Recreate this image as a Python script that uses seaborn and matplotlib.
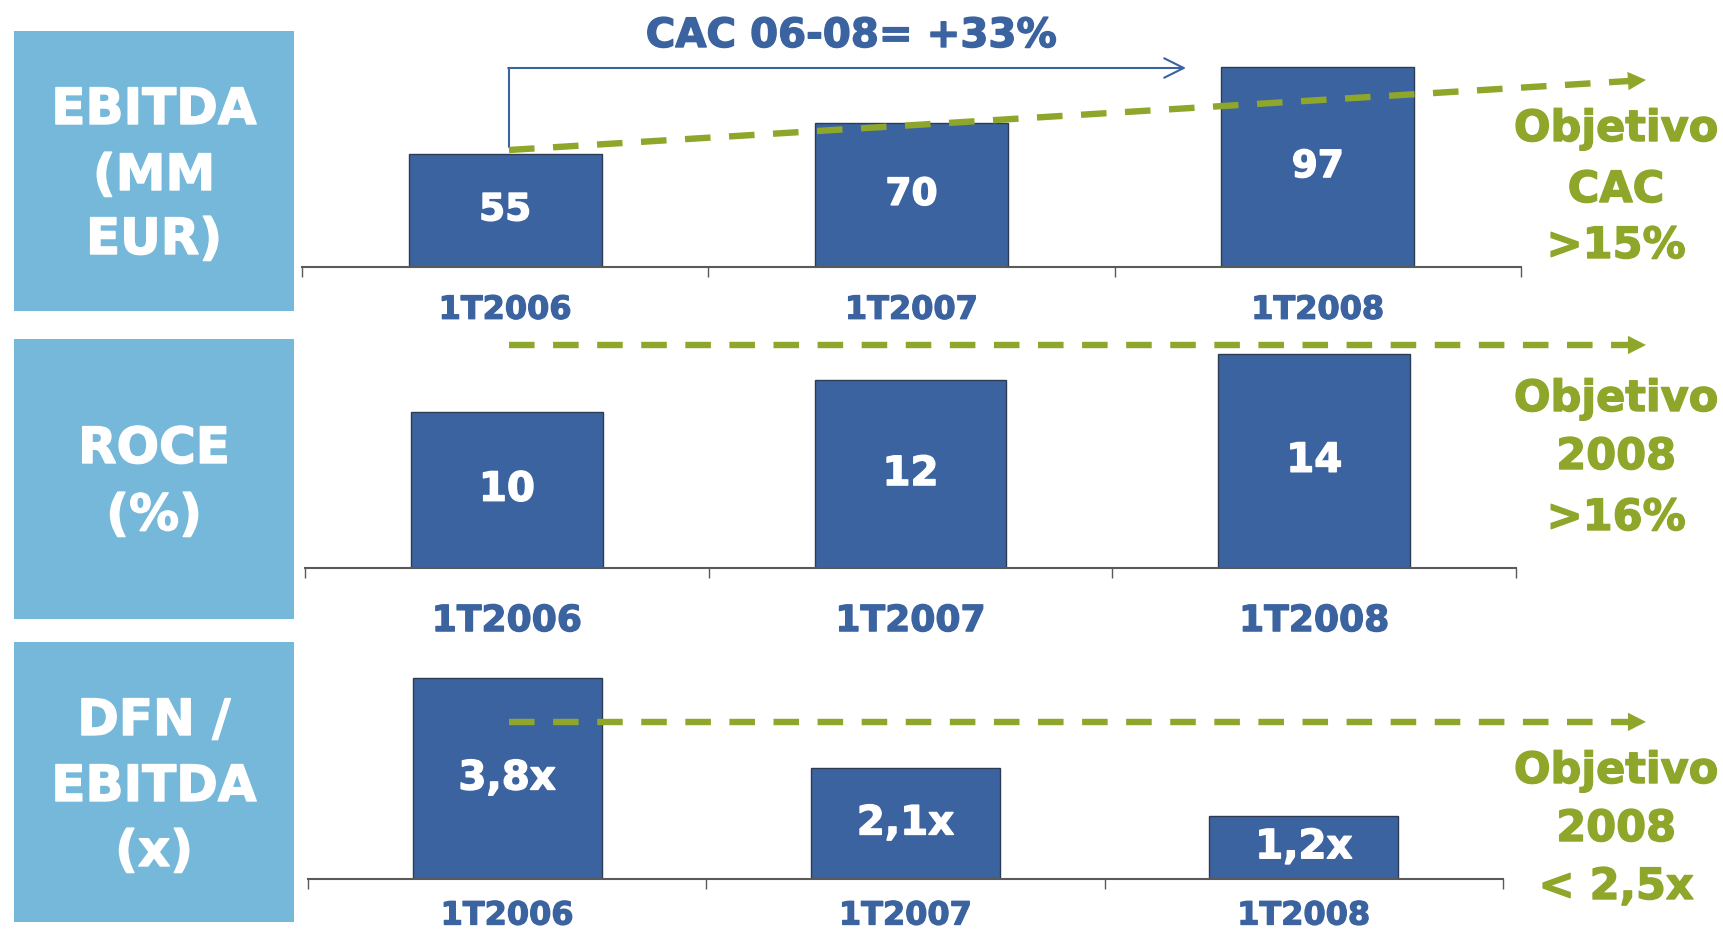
import matplotlib
matplotlib.use("Agg")
import matplotlib.pyplot as plt
import matplotlib.patheffects as pe
import seaborn as sns
import pandas as pd
from matplotlib.patches import Rectangle

# ---------------- data ----------------
periods = ["1T2006", "1T2007", "1T2008"]
ebitda = [55, 70, 97]
ebitda_labels = ["55", "70", "97"]
roce = [10.0, 12.0, 13.7]
roce_labels = ["10", "12", "14"]
dfn_ebitda = [3.8, 2.1, 1.2]
dfn_labels = ["3,8x", "2,1x", "1,2x"]
panel_titles = [["EBITDA", "(MM", "EUR)"], ["ROCE", "(%)"], ["DFN /", "EBITDA", "(x)"]]
target_texts = [["Objetivo", "CAC", ">15%"], ["Objetivo", "2008", ">16%"], ["Objetivo", "2008", "< 2,5x"]]
cac_text = "CAC 06-08= +33%"
# target trend lines (value at start, value at end)
target_lines = [(56.8, 90.8), (14.25, 14.25), (2.97, 2.97)]

# ---------------- style ----------------
sns.set_style("white")
plt.rcParams["font.family"] = ["DejaVu Sans"]
BLUE = "#3B639F"
BOX = "#75B8DA"
GREEN = "#8EA62A"
AXGRAY = "#5a5a5a"

W, H = 1723, 934
fig = plt.figure(figsize=(W / 100, H / 100), dpi=100)
fig.patch.set_facecolor("white")


def fx(x):
    return x / W


def fy(y):
    return 1 - y / H


def heavy(color, w=0.9):
    return [pe.withStroke(linewidth=w, foreground=color)]


panels = [
    dict(vals=ebitda, labels=ebitda_labels, l=302, r=1521, base=267, ppu=2.06, ymax=110,
         tick_size=23, pad=20, lab_size=27, box=(31, 311), title_ys=[110, 176, 240],
         target_ys=[129, 190, 246]),
    dict(vals=roce, labels=roce_labels, l=305, r=1516, base=568, ppu=15.65, ymax=15,
         tick_size=26, pad=26, lab_size=29, box=(339, 619), title_ys=[449, 516],
         target_ys=[399, 457, 518]),
    dict(vals=dfn_ebitda, labels=dfn_labels, l=308, r=1503, base=879, ppu=52.9, ymax=4.5,
         tick_size=23, pad=15.5, lab_size=29, box=(642, 922), title_ys=[721, 787, 852],
         target_ys=[771, 829, 887]),
]

axes = []
for i, p in enumerate(panels):
    # light blue label box
    y0, y1 = p["box"]
    fig.patches.append(Rectangle((fx(14), fy(y1)), (294 - 14) / W, (y1 - y0) / H,
                                 transform=fig.transFigure, facecolor=BOX, edgecolor="none",
                                 zorder=0))
    for t, ty in zip(panel_titles[i], p["title_ys"]):
        fig.text(fx(154), fy(ty), t, ha="center", va="center", color="white",
                 fontsize=36, fontweight="bold", path_effects=heavy("white", 1.0))
    for t, ty in zip(target_texts[i], p["target_ys"]):
        fig.text(fx(1616), fy(ty), t, ha="center", va="center", color=GREEN,
                 fontsize=31, fontweight="bold", path_effects=heavy(GREEN, 1.0))

    h = p["ymax"] * p["ppu"]
    ax = fig.add_axes([fx(p["l"]), fy(p["base"]), (p["r"] - p["l"]) / W, h / H])
    df = pd.DataFrame({"periodo": periods, "valor": p["vals"]})
    sns.barplot(data=df, x="periodo", y="valor", ax=ax, color=BLUE, saturation=1,
                width=0.475, edgecolor="#2d3b55", linewidth=1.0, zorder=2)
    ax.bar_label(ax.containers[0], labels=p["labels"], label_type="center",
                 color="white", fontsize=p["lab_size"], fontweight="bold",
                 path_effects=heavy("white", 1.0))
    ax.set_xlim(-0.5, 2.5)
    ax.set_ylim(0, p["ymax"])
    ax.set_facecolor("none")
    for s in ["left", "right", "top"]:
        ax.spines[s].set_visible(False)
    ax.spines["bottom"].set_color(AXGRAY)
    ax.spines["bottom"].set_linewidth(1.5)
    ax.set_yticks([])
    ax.set_xlabel("")
    ax.set_ylabel("")
    ax.set_xticks([0, 1, 2])
    ax.set_xticklabels(periods, color=BLUE, fontsize=p["tick_size"], fontweight="bold")
    for tl in ax.get_xticklabels():
        tl.set_path_effects(heavy(BLUE, 0.9))
    ax.set_xticks([-0.5, 0.5, 1.5, 2.5], minor=True)
    ax.tick_params(axis="x", which="major", length=0, pad=p["pad"], bottom=True)
    ax.tick_params(axis="x", which="minor", length=7.5, width=1.0, color=AXGRAY,
                   direction="out", bottom=True)

    # green dashed target arrow
    cat_w = (p["r"] - p["l"]) / 3
    c0 = p["l"] + cat_w / 2
    xs = (509 - c0) / cat_w
    xe = (1646 - c0) / cat_w
    ys_, ye_ = target_lines[i]
    slope = (ye_ - ys_) / (xe - xs)
    hl = 17 / cat_w
    ax.plot([xs, xe - hl], [ys_, ye_ - hl * slope], color=GREEN, lw=4.6,
            linestyle=(0, (4.0, 2.9)), dash_capstyle="butt", clip_on=False, zorder=6)
    d = 0.12
    ax.annotate("", xy=(xe, ye_), xytext=(xe - d, ye_ - d * slope),
                arrowprops=dict(arrowstyle="-|>,head_length=0.65,head_width=0.33",
                                mutation_scale=20, fc=GREEN, ec=GREEN, lw=0,
                                shrinkA=0, shrinkB=0),
                annotation_clip=False, zorder=6)
    axes.append(ax)

# CAC bracket arrow on EBITDA panel
ax1 = axes[0]
p = panels[0]
cat_w = (p["r"] - p["l"]) / 3
c0 = p["l"] + cat_w / 2
bx = (509 - c0) / cat_w
bx_end = (1186 - c0) / cat_w
y_low = (p["base"] - 147) / p["ppu"]
y_high = (p["base"] - 68) / p["ppu"]
ax1.plot([bx, bx], [y_low, y_high], color=BLUE, lw=1.5, clip_on=False, zorder=5)
ax1.annotate("", xy=(bx_end, y_high), xytext=(bx - 0.002, y_high),
             arrowprops=dict(arrowstyle="->,head_length=0.7,head_width=0.35",
                             mutation_scale=20, color=BLUE, lw=1.5, shrinkA=0, shrinkB=0),
             annotation_clip=False, zorder=5)
fig.text(fx(851), fy(36), cac_text, ha="center", va="center", color=BLUE,
         fontsize=29, fontweight="bold", path_effects=heavy(BLUE, 1.0))

fig.savefig("out.png", dpi=100)
